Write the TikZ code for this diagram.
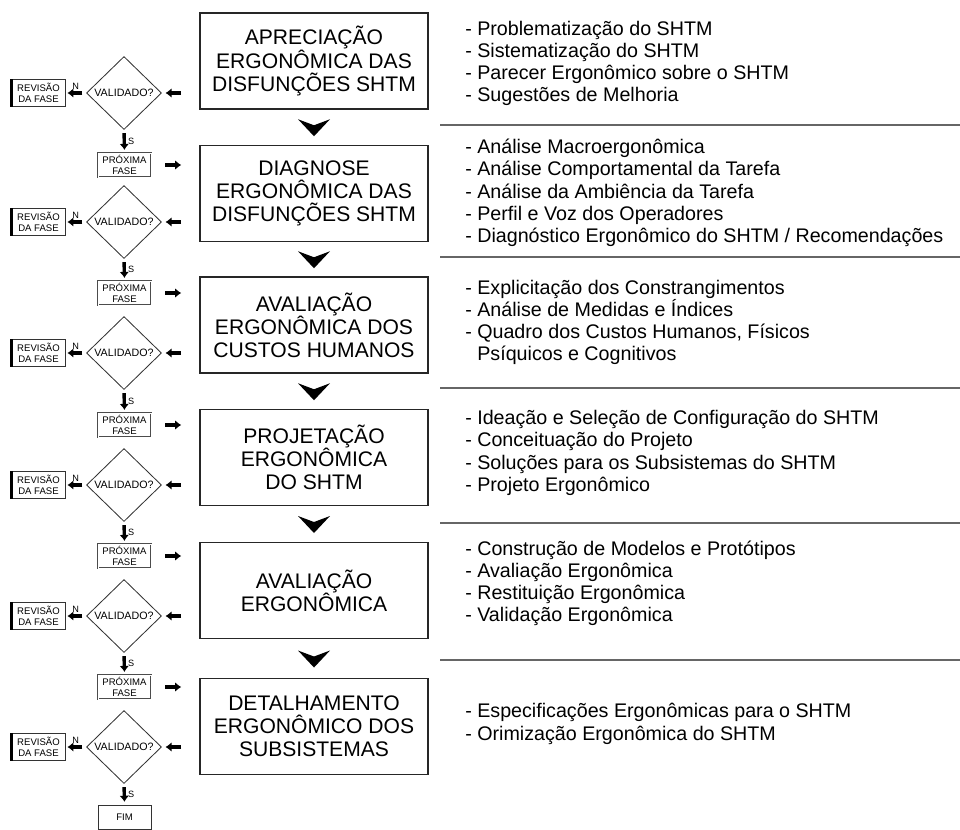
\documentclass[tikz,border=0pt]{standalone}
\usepackage{fontspec}
\setmainfont{Liberation Sans}
\usetikzlibrary{arrows.meta,positioning,shapes.geometric,calc}

\begin{document}
\begin{tikzpicture}[
  x=0.25mm, y=-0.25mm,
  >={Latex[length=1.5mm,width=2.4mm]},
  phase/.style={draw=black!85, line width=1.1pt, minimum width=57mm, minimum height=24mm,
    inner sep=0pt, align=center, font=\fontsize{15}{16.4}\selectfont},
  check/.style={diamond, draw=black!80, line width=0.6pt, minimum width=18.75mm,
    minimum height=18.25mm, inner sep=0pt, font=\fontsize{7.6}{8}\selectfont},
  revbox/.style={draw=black!80, line width=0.6pt, minimum width=13.25mm, minimum height=6.75mm,
    inner sep=0pt, align=center, font=\fontsize{6.8}{7.4}\selectfont},
  nextbox/.style={revbox, minimum height=6mm, draw=black!70, line width=0.4pt,
    double=white, double distance=0.6pt},
  tasks/.style={anchor=west, align=left, inner sep=0pt, font=\fontsize{14}{15.8}\selectfont},
  arr/.style={->, line width=2.4pt},
  lbl/.style={font=\fontsize{6.5}{7}\selectfont, inner sep=1.5pt},
  sep/.style={draw=black!60, line width=1.2pt}
]
  \useasboundingbox (0,0) rectangle (960,829);

  % fases
  \node[phase] (p1) at (314,61) {APRECIAÇÃO\\ERGONÔMICA DAS\\DISFUNÇÕES SHTM};
  \node[phase] (p2) at (314,193.5) {DIAGNOSE\\ERGONÔMICA DAS\\DISFUNÇÕES SHTM};
  \node[phase] (p3) at (314,325) {AVALIAÇÃO\\ERGONÔMICA DOS\\CUSTOS HUMANOS};
  \node[phase] (p4) at (314,457.5) {PROJETAÇÃO\\ERGONÔMICA\\DO SHTM};
  \node[phase] (p5) at (314,590.5) {AVALIAÇÃO\\ERGONÔMICA};
  \node[phase] (p6) at (314,726.5) {DETALHAMENTO\\ERGONÔMICO DOS\\SUBSISTEMAS};

  % validacao
  \node[check] (d1) at (124,93) {VALIDADO?};
  \node[check] (d2) at (124,222) {VALIDADO?};
  \node[check] (d3) at (124,353) {VALIDADO?};
  \node[check] (d4) at (124,485) {VALIDADO?};
  \node[check] (d5) at (124,616) {VALIDADO?};
  \node[check] (d6) at (124,747) {VALIDADO?};

  \foreach \i in {1,...,6}
    \node[revbox] (r\i) at (38.5,0 |- d\i) {REVISÃO\\DA FASE};

  \node[nextbox] (n2) at (124.5,165) {PRÓXIMA\\FASE};
  \node[nextbox] (n3) at (124.5,293) {PRÓXIMA\\FASE};
  \node[nextbox] (n4) at (124.5,425) {PRÓXIMA\\FASE};
  \node[nextbox] (n5) at (124.5,556) {PRÓXIMA\\FASE};
  \node[nextbox] (n6) at (124.5,687) {PRÓXIMA\\FASE};
  \node[revbox, minimum height=6mm] (fim) at (124.5,817) {FIM};

  % setas
  \foreach \i in {1,...,6} {
    \draw[arr, shorten <=4.5mm, shorten >=0.9mm] (d\i.east -| p\i.west) -- (d\i.east);
    \draw[arr, shorten <=0.9mm, shorten >=0.5mm] (d\i.west) -- node[lbl, above] {N} (r\i.east);
    \draw[line width=1.6pt] (r\i.south west) -- (r\i.north west);
  }
  \foreach \i/\j in {1/2,2/3,3/4,4/5,5/6} {
    \draw[arr, shorten <=0.8mm, shorten >=0.7mm] (d\i.south) -- node[lbl, right] {S} (n\j.north);
    \draw[arr, shorten <=3.5mm, shorten >=4.5mm] (n\j.east) -- (n\j.east -| p\j.west);
  }
  \draw[arr, shorten <=0.8mm, shorten >=0.7mm] (d6.south) -- node[lbl, right] {S} (fim.north);

  \foreach \a/\b in {p1/p2,p2/p3,p3/p4,p4/p5,p5/p6}
    \fill ($(\a.south)!0.5!(\b.north)$) +(-16,-8) -- +(0,-2) -- +(16,-8) -- +(0,9) -- cycle;

  % atividades
  \node[tasks] (t1) at (465,63.5) {- Problematização do SHTM\\- Sistematização do SHTM\\
    - Parecer Ergonômico sobre o SHTM\\- Sugestões de Melhoria};
  \node[tasks] (t2) at (465,193) {- Análise Macroergonômica\\- Análise Comportamental da Tarefa\\
    - Análise da Ambiência da Tarefa\\- Perfil e Voz dos Operadores\\
    - Diagnóstico Ergonômico do SHTM / Recomendações};
  \node[tasks] (t3) at (465,322.5) {- Explicitação dos Constrangimentos\\- Análise de Medidas e Índices\\
    - Quadro dos Custos Humanos, Físicos\\\hphantom{- }Psíquicos e Cognitivos};
  \node[tasks] (t4) at (465,453) {- Ideação e Seleção de Configuração do SHTM\\- Conceituação do Projeto\\
    - Soluções para os Subsistemas do SHTM\\- Projeto Ergonômico};
  \node[tasks] (t5) at (465,583.5) {- Construção de Modelos e Protótipos\\- Avaliação Ergonômica\\
    - Restituição Ergonômica\\- Validação Ergonômica};
  \node[tasks] (t6) at (465,724) {- Especificações Ergonômicas para o SHTM\\- Orimização Ergonômica do SHTM};

  \foreach \y in {125,257,388,523,660}
    \draw[sep] (440,\y) -- (960,\y);
\end{tikzpicture}
\end{document}
